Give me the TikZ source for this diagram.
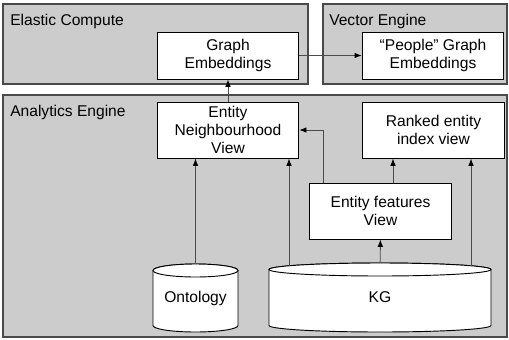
\documentclass[tikz,border=0pt]{standalone}
\usepackage{fontspec}
\setmainfont{Liberation Sans}
\usetikzlibrary{arrows.meta}

\definecolor{zonegray}{HTML}{CCCCCC}
\definecolor{linegray}{HTML}{4A4A4A}

\tikzset{
  zone/.style={draw=linegray, fill=zonegray, line width=0.8pt},
  zonetitle/.style={anchor=base west, inner sep=0pt},
  view/.style={draw=black, fill=white, align=center, inner sep=0pt, minimum width=106pt, line width=0.7pt},
  storeline/.style={draw=black, fill=white, line width=0.7pt},
  arr/.style={draw=linegray, line width=0.7pt, -{Latex[length=5.5pt,width=4.2pt,color=black]}},
}

\begin{document}
\begin{tikzpicture}[x=0.75pt, y=-0.75pt, font=\fontsize{11.7}{13.5}\selectfont]
\useasboundingbox (0,0) rectangle (509,339);

% zones
\draw[zone] (3,4) rectangle (308,84);
\draw[zone] (323,4) rectangle (507,84);
\draw[zone] (3,95) rectangle (507,337);
\node[zonetitle] (ectitle) at (10,25) {Elastic Compute};
\node[zonetitle] (vetitle) at (329,25) {Vector Engine};
\node[zonetitle] (aetitle) at (10,116) {Analytics Engine};

% views
\node[view, minimum height=35.25pt] (gemb) at (228,55.5) {Graph\\Embeddings};
\node[view, minimum height=35.25pt] (pemb) at (433,55.5) {``People'' Graph\\Embeddings};
\node[view, minimum height=42pt] (neigh) at (228,130) {Entity\\Neighbourhood\\View};
\node[view, minimum height=42pt] (ranked) at (433.5,130) {Ranked entity\\index view};
\node[view, minimum height=42pt] (feat) at (380.5,211) {Entity features\\View};

% stores (cylinders drawn by hand round the nodes)
\draw[storeline] (153,270.5) -- (153,325.5) arc[start angle=180, end angle=0, x radius=42.5, y radius=6.5]
  -- (238,270.5) arc[start angle=0, end angle=-180, x radius=42.5, y radius=6.5] -- cycle;
\draw[storeline] (195.5,270.5) ellipse[x radius=42.5, y radius=6.5];
\node[minimum width=64pt, minimum height=51pt] (onto) at (195.5,298) {Ontology};

\draw[storeline] (269,269.5) -- (269,325.5) arc[start angle=180, end angle=0, x radius=111, y radius=6.5]
  -- (491,269.5) arc[start angle=0, end angle=-180, x radius=111, y radius=6.5] -- cycle;
\draw[storeline] (380,269.5) ellipse[x radius=111, y radius=6.5];
\node[minimum width=166.5pt, minimum height=51.75pt] (kg) at (380,297.5) {KG};

\coordinate (k1) at (289,266);
\coordinate (k2) at (471,266);
\coordinate (f1) at (323,183);
\coordinate (f2) at (393,183);

% connectors
\draw[arr] (neigh) -- (gemb);
\draw[arr] (gemb) -- (pemb);
\draw[arr] (onto.north) -- (onto.north |- neigh.south);
\draw[arr] (k1) -- (k1 |- neigh.south);
\draw[arr] (f1) |- (neigh.east);
\draw[arr] (f2) -- (f2 |- ranked.south);
\draw[arr] (k2) -- (k2 |- ranked.south);
\draw[arr] (kg) -- (feat);

\end{tikzpicture}
\end{document}
